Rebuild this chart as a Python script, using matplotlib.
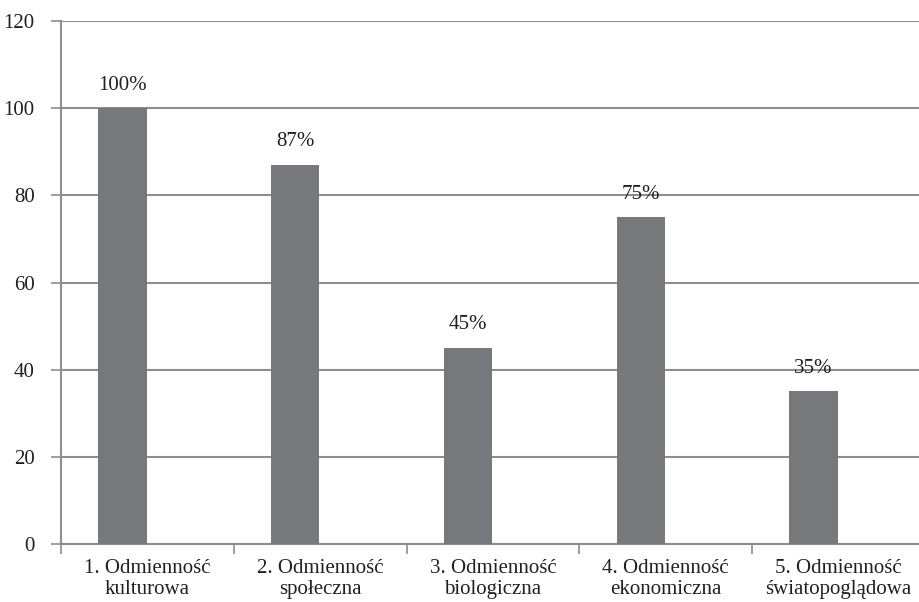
import numpy as np
import matplotlib.pyplot as plt
from matplotlib.ticker import FixedLocator

# dane: odsetek wskazań dla każdego rodzaju odmienności
kategorie = ["1. Odmienność\nkulturowa", "2. Odmienność\nspołeczna",
             "3. Odmienność\nbiologiczna", "4. Odmienność\nekonomiczna",
             "5. Odmienność\nświatopoglądowa"]
wartosci = [100, 87, 45, 75, 35]
etykiety = ["100%", "87%", "45%", "75%", "35%"]
y_ticks = [0, 20, 40, 60, 80, 100, 120]

plt.rcParams['font.family'] = ['Liberation Serif', 'DejaVu Serif']

kolor_slupka = "#77787b"
kolor_siatki = "#8e8e8e"
kolor_tekstu = "#231f20"
rozmiar = 15

fig = plt.figure(figsize=(9.2, 6.02), dpi=100)
ax = fig.add_axes([61 / 920, 58 / 602, 864 / 920, 523 / 602])

x = np.arange(len(kategorie))
przesuniecie = -0.145  # słupki przesunięte w lewo względem środka kategorii
ax.bar(x + przesuniecie, wartosci, width=0.28, color=kolor_slupka, zorder=3)

for xi, v, txt in zip(x, wartosci, etykiety):
    ax.text(xi + przesuniecie, v + 5.3, txt, ha='center', va='center',
            fontsize=rozmiar, color=kolor_tekstu, zorder=4)

ax.set_xlim(-0.5, len(kategorie) - 0.5)
ax.set_ylim(0, 120)
ax.set_yticks(y_ticks)
ax.set_yticklabels([str(t) for t in y_ticks])
ax.yaxis.grid(True, color=kolor_siatki, linewidth=1.5, zorder=0)

ax.set_xticks(x)
ax.set_xticklabels(kategorie, linespacing=1.1)
ax.xaxis.set_minor_locator(FixedLocator(np.arange(-0.5, len(kategorie), 1.0)))
ax.tick_params(axis='x', which='major', length=0, pad=11,
               labelsize=rozmiar, labelcolor=kolor_tekstu)
ax.tick_params(axis='x', which='minor', length=7, width=1.2, color=kolor_siatki)
ax.tick_params(axis='y', length=7, width=1.2, color=kolor_siatki, pad=12,
               labelsize=rozmiar, labelcolor=kolor_tekstu)

for s in ['top', 'right']:
    ax.spines[s].set_visible(False)
for s in ['left', 'bottom']:
    ax.spines[s].set_color(kolor_siatki)
    ax.spines[s].set_linewidth(1.5)

fig.savefig("out.png", dpi=100)
